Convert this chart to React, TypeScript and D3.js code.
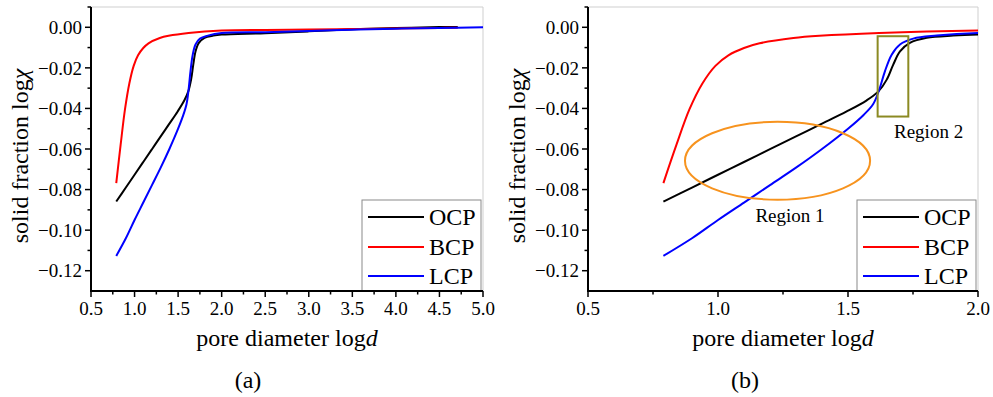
import * as d3 from "d3";

// series (log d, log chi)
const ocpX = [0.79, 0.9, 1.0, 1.1, 1.2, 1.3, 1.392, 1.495, 1.572, 1.617, 1.649, 1.674, 1.7, 1.738, 1.803, 1.905, 2.0, 2.5, 3.0, 3.5, 4.0, 4.5, 4.71];
const ocpY = [-0.0859, -0.0790, -0.0727, -0.0664, -0.0601, -0.0538, -0.048, -0.0415, -0.036, -0.0316, -0.0258, -0.0184, -0.0119, -0.0077, -0.0052, -0.0041, -0.0036, -0.0029, -0.002, -0.001, -0.0004, 0.0001, 0.0002];

const bcpX = [0.79, 0.84, 0.89, 0.94, 0.99, 1.04, 1.1, 1.16, 1.29, 1.39, 1.62, 2.0, 2.5, 3.0, 3.5, 4.0, 4.5, 4.71];
const bcpY = [-0.0768, -0.058, -0.0405, -0.0277, -0.019, -0.0138, -0.0102, -0.0079, -0.0053, -0.0042, -0.0028, -0.0016, -0.0013, -0.0011, -0.0009, -0.0006, -0.0003, -0.0002];

const lcpX = [0.79, 0.9, 1.0, 1.1, 1.2, 1.3, 1.4, 1.5, 1.56, 1.597, 1.62, 1.642, 1.668, 1.7, 1.751, 1.841, 2.0, 2.5, 3.0, 3.5, 4.0, 4.5, 5.0];
const lcpY = [-0.1127, -0.104, -0.095, -0.0864, -0.0778, -0.0692, -0.06, -0.0500, -0.0432, -0.0378, -0.0308, -0.0217, -0.0135, -0.0085, -0.0056, -0.0041, -0.0028, -0.0024, -0.0018, -0.0012, -0.0007, -0.0003, 0.0];

const seriesNames = ["OCP", "BCP", "LCP"];
const seriesColors = ["#000000", "#ff0000", "#0000ff"];

const yDomain = [-0.13, 0.01];
const yMajor = [0, -0.02, -0.04, -0.06, -0.08, -0.1, -0.12];
const yMinor = [0.01, -0.01, -0.03, -0.05, -0.07, -0.09, -0.11];

const xMajorA = [0.5, 1.0, 1.5, 2.0, 2.5, 3.0, 3.5, 4.0, 4.5, 5.0];
const xMinorA = [0.75, 1.25, 1.75, 2.25, 2.75, 3.25, 3.75, 4.25, 4.75];
const xMajorB = [0.5, 1.0, 1.5, 2.0];
const xMinorB = [0.75, 1.25, 1.75];

// annotations of panel (b), data units
const region1 = { cx: 1.229, cy: -0.0658, rx: 0.356, ry: 0.0192, label: "Region 1", lx: 1.277, ly: -0.096 };
const region2 = { x0: 1.614, x1: 1.732, y0: -0.0044, y1: -0.044, label: "Region 2", lx: 1.81, ly: -0.0545 };

const FONT = "'Liberation Serif', 'Times New Roman', serif";

type PanelProps = {
  id: string;
  left: number;
  right: number;
  xDomain: [number, number];
  xMajor: number[];
  xMinor: number[];
  caption: string;
  captionX: number;
  annotate?: boolean;
};

function Panel({ id, left, right, xDomain, xMajor, xMinor, caption, captionX, annotate }: PanelProps) {
  const top = 7;
  const bottom = 291;
  const x = d3.scaleLinear().domain(xDomain).range([left, right]);
  const y = d3.scaleLinear().domain(yDomain).range([bottom, top]);

  const series = [
    ocpX.map((v, i) => [v, ocpY[i]] as [number, number]),
    bcpX.map((v, i) => [v, bcpY[i]] as [number, number]),
    lcpX.map((v, i) => [v, lcpY[i]] as [number, number]),
  ];
  const line = d3.line<[number, number]>()
    .x(d => x(d[0]))
    .y(d => y(d[1]))
    .curve(d3.curveCatmullRom.alpha(0.5));

  const fmtY = d3.format(".2f");
  const fmtX = d3.format(".1f");

  const legX = right - 121;
  const legY = 200;
  const rowY = [217, 247, 276];

  return (
    <g>
      <defs>
        <clipPath id={`clip-${id}`}>
          <rect x={left} y={top} width={right - left} height={bottom - top} />
        </clipPath>
      </defs>

      {/* light frame on top/right */}
      <line x1={left} x2={right} y1={top} y2={top} stroke="#cfcfcf" strokeWidth={1} />
      <line x1={right} x2={right} y1={top} y2={bottom} stroke="#cfcfcf" strokeWidth={1} />

      <g clipPath={`url(#clip-${id})`}>
        {series.map((s, i) => (
          <path key={i} d={line(s) ?? ""} fill="none" stroke={seriesColors[i]} strokeWidth={2} />
        ))}
      </g>

      {annotate && (
        <g>
          <ellipse
            cx={x(region1.cx)} cy={y(region1.cy)}
            rx={x(region1.cx + region1.rx) - x(region1.cx)}
            ry={y(region1.cy - region1.ry) - y(region1.cy)}
            fill="none" stroke="#f7931e" strokeWidth={2}
          />
          <text x={x(region1.lx)} y={y(region1.ly)} textAnchor="middle" fontFamily={FONT} fontSize={19}>{region1.label}</text>
          <rect
            x={x(region2.x0)} y={y(region2.y0)}
            width={x(region2.x1) - x(region2.x0)}
            height={y(region2.y1) - y(region2.y0)}
            fill="none" stroke="#8b8a23" strokeWidth={2}
          />
          <text x={x(region2.lx)} y={y(region2.ly)} textAnchor="middle" fontFamily={FONT} fontSize={19}>{region2.label}</text>
        </g>
      )}

      {/* legend */}
      <rect x={legX} y={legY} width={119} height={bottom - legY} fill="#fff" stroke="#8a8a8a" strokeWidth={1} />
      {seriesNames.map((n, i) => (
        <g key={n}>
          <line x1={legX + 6} x2={legX + 62} y1={rowY[i]} y2={rowY[i]} stroke={seriesColors[i]} strokeWidth={2} />
          <text x={legX + 67} y={rowY[i] + 8} fontFamily={FONT} fontSize={24}>{n}</text>
        </g>
      ))}

      {/* y axis */}
      <line x1={left} x2={left} y1={top} y2={bottom + 1} stroke="#000" strokeWidth={2} />
      {yMajor.map(t => (
        <g key={`ym${t}`}>
          <line x1={left - 6} x2={left} y1={y(t)} y2={y(t)} stroke="#000" strokeWidth={1.5} />
          <text x={left - 9} y={y(t)} dy="0.35em" textAnchor="end" fontFamily={FONT} fontSize={19}>{fmtY(t)}</text>
        </g>
      ))}
      {yMinor.map(t => (
        <line key={`yn${t}`} x1={left - 3.5} x2={left} y1={y(t)} y2={y(t)} stroke="#000" strokeWidth={1.5} />
      ))}

      {/* x axis */}
      <line x1={left - 1} x2={right} y1={bottom} y2={bottom} stroke="#000" strokeWidth={2} />
      {xMajor.map(t => (
        <g key={`xm${t}`}>
          <line x1={x(t)} x2={x(t)} y1={bottom} y2={bottom + 6} stroke="#000" strokeWidth={1.5} />
          <text x={x(t)} y={315} textAnchor="middle" fontFamily={FONT} fontSize={19}>{fmtX(t)}</text>
        </g>
      ))}
      {xMinor.map(t => (
        <line key={`xn${t}`} x1={x(t)} x2={x(t)} y1={bottom} y2={bottom + 3.5} stroke="#000" strokeWidth={1.5} />
      ))}

      {/* axis titles */}
      <text x={(left + right) / 2} y={346} textAnchor="middle" fontFamily={FONT} fontSize={24}>
        pore diameter log<tspan fontStyle="italic">d</tspan>
      </text>
      <text
        transform={`translate(${left - 63},156) rotate(-90)`}
        textAnchor="middle" fontFamily={FONT} fontSize={24}
      >
        solid fraction log<tspan fontStyle="italic">χ</tspan>
      </text>

      <text x={captionX} y={388} textAnchor="middle" fontFamily={FONT} fontSize={24}>{caption}</text>
    </g>
  );
}

export default function App() {
  return (
    <svg
      width={993}
      height={397}
      style={{ position: "absolute", left: 0, top: 0, background: "#fff" }}
    >
      <rect width={993} height={397} fill="#fff" />
      <Panel id="a" left={91} right={483} xDomain={[0.5, 5.0]} xMajor={xMajorA} xMinor={xMinorA} caption="(a)" captionX={248} />
      <Panel id="b" left={588} right={978} xDomain={[0.5, 2.0]} xMajor={xMajorB} xMinor={xMinorB} caption="(b)" captionX={745} annotate />
    </svg>
  );
}
